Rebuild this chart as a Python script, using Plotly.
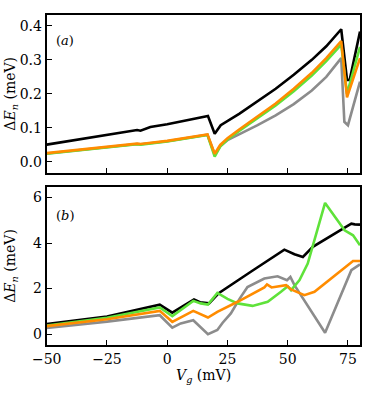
import plotly.graph_objects as go
from plotly.subplots import make_subplots

# panel (a)
xa_black = [-50, -30, -12.5, -11.1, -7, 0, 8, 16.9, 19.7, 22.2, 30, 37.5, 45, 52.5, 60, 66, 72.2, 74.6, 75.7, 80]
ya_black = [0.051, 0.073, 0.094, 0.092, 0.103, 0.111, 0.122, 0.135, 0.083, 0.108, 0.142, 0.178, 0.215, 0.256, 0.300, 0.340, 0.390, 0.241, 0.241, 0.383]

xa_col = [-50, -30, -12.5, -11, 0, 16.7, 19.7, 22, 25, 30, 37.5, 45, 52.5, 60, 66, 72.2, 74.6, 80]
ya_orange = [0.026, 0.041, 0.054, 0.053, 0.062, 0.081, 0.024, 0.050, 0.070, 0.096, 0.133, 0.172, 0.215, 0.262, 0.305, 0.355, 0.190, 0.305]
ya_green = [0.024, 0.039, 0.052, 0.051, 0.060, 0.079, 0.016, 0.045, 0.066, 0.092, 0.128, 0.166, 0.208, 0.254, 0.296, 0.345, 0.200, 0.338]

xa_gray = [-50, -30, -12.5, -11, 0, 16.7, 19.7, 22, 25, 30, 37.5, 45, 52.5, 60, 66, 72.2, 73.5, 75, 80]
ya_gray = [0.025, 0.040, 0.053, 0.052, 0.061, 0.080, 0.022, 0.047, 0.064, 0.082, 0.108, 0.137, 0.170, 0.210, 0.250, 0.305, 0.118, 0.108, 0.236]

# panel (b)
xb_black = [-50, -25, -3.1, 2.1, 11.1, 13.6, 17.4, 21.5, 35, 48.6, 52.8, 56.3, 60.4, 76.4, 77.8, 80]
yb_black = [0.44, 0.77, 1.29, 0.94, 1.52, 1.40, 1.35, 1.81, 2.76, 3.71, 3.51, 3.39, 3.83, 4.85, 4.82, 4.81]

xb_green = [-50, -25, -3.1, 2.1, 10.8, 13.9, 16.9, 20.8, 25, 29.2, 35.4, 41.7, 47.2, 50, 51.4, 54.9, 58.3, 61.1, 65.5, 73.6, 77.1, 80]
yb_green = [0.38, 0.72, 1.17, 0.79, 1.46, 1.35, 1.30, 1.81, 1.55, 1.35, 1.24, 1.42, 1.86, 2.10, 1.93, 2.37, 3.10, 4.12, 5.76, 4.56, 4.34, 3.90]

xb_orange = [-50, -25, -3.1, 2.1, 10.8, 16.9, 20.8, 29.2, 40.3, 41.4, 43.3, 49.3, 51.4, 56.9, 61.1, 77.1, 80]
yb_orange = [0.35, 0.65, 1.02, 0.54, 1.02, 0.73, 0.98, 1.42, 2.05, 2.18, 2.05, 2.15, 1.96, 1.71, 1.86, 3.21, 3.21]

xb_gray = [-50, -25, -3.1, 0, 2.1, 5.6, 10.8, 16.9, 19.4, 20.8, 23, 26.4, 30, 33.3, 40.3, 45.8, 49.7, 51.1, 52.8, 57.6, 65.5, 76.4, 80]
yb_gray = [0.27, 0.55, 0.83, 0.50, 0.28, 0.47, 0.61, 0.00, 0.10, 0.18, 0.50, 0.91, 1.55, 2.07, 2.44, 2.54, 2.37, 2.51, 2.15, 1.35, 0.06, 2.81, 3.06]

BLACK = "#000000"
GRAY = "#8c8c8c"
GREEN = "#5fe23a"
ORANGE = "#ff8c00"
FONT = "DejaVu Serif"

fig = make_subplots(rows=2, cols=1)

def add(x, y, color, row):
    fig.add_trace(go.Scatter(x=x, y=y, mode="lines", line=dict(color=color, width=2.6),
                             showlegend=False), row=row, col=1)

add(xa_black, ya_black, BLACK, 1)
add(xa_gray, ya_gray, GRAY, 1)
add(xa_col, ya_green, GREEN, 1)
add(xa_col, ya_orange, ORANGE, 1)

add(xb_black, yb_black, BLACK, 2)
add(xb_gray, yb_gray, GRAY, 2)
add(xb_green, yb_green, GREEN, 2)
add(xb_orange, yb_orange, ORANGE, 2)

axis_style = dict(showline=True, mirror=True, linecolor="black", linewidth=2,
                  ticks="inside", ticklen=5, tickwidth=1.2, tickcolor="black",
                  showgrid=False, zeroline=False, automargin=False,
                  tickfont=dict(family=FONT, size=14, color="black"))

fig.update_xaxes(range=[-50, 80], tickvals=[-50, -25, 0, 25, 50, 75], **axis_style)
fig.update_xaxes(showticklabels=False, row=1, col=1)
fig.update_yaxes(**axis_style)
fig.update_yaxes(range=[-0.031, 0.432], tickvals=[0, 0.1, 0.2, 0.3, 0.4],
                 tickformat=".1f", row=1, col=1)
fig.update_yaxes(range=[-0.48, 6.44], tickvals=[0, 2, 4, 6], row=2, col=1)

fig.update_layout(
    width=383, height=393,
    margin=dict(l=0, r=0, t=0, b=0, autoexpand=False),
    plot_bgcolor="white", paper_bgcolor="white",
    font=dict(family=FONT, color="black"),
    xaxis=dict(domain=[0.122, 0.940]),
    xaxis2=dict(domain=[0.122, 0.940]),
    yaxis=dict(domain=[0.561, 0.962]),
    yaxis2=dict(domain=[0.122, 0.523]),
)

title_font = dict(family=FONT, size=14, color="black")
ytitle = "Δ<i>E<sub>n</sub></i> (meV)"
for yc in (0.761, 0.323):
    fig.add_annotation(text=ytitle, x=0.028, y=yc, xref="paper", yref="paper",
                       xanchor="center", yanchor="middle",
                       textangle=-90, showarrow=False, font=title_font)
fig.add_annotation(text="<i>V<sub>g</sub></i> (mV)", x=0.531, y=0.042, xref="paper", yref="paper",
                   xanchor="center", yanchor="middle", showarrow=False, font=title_font)
fig.add_annotation(text="(<i>a</i>)", x=0.17, y=0.898, xref="paper", yref="paper",
                   xanchor="center", yanchor="middle",
                   showarrow=False, font=dict(family=FONT, size=13, color="black"))
fig.add_annotation(text="(<i>b</i>)", x=0.17, y=0.451, xref="paper", yref="paper",
                   xanchor="center", yanchor="middle",
                   showarrow=False, font=dict(family=FONT, size=13, color="black"))

fig.write_html("out.html", config={"displayModeBar": False},
               post_script="document.body.style.margin='0';")
